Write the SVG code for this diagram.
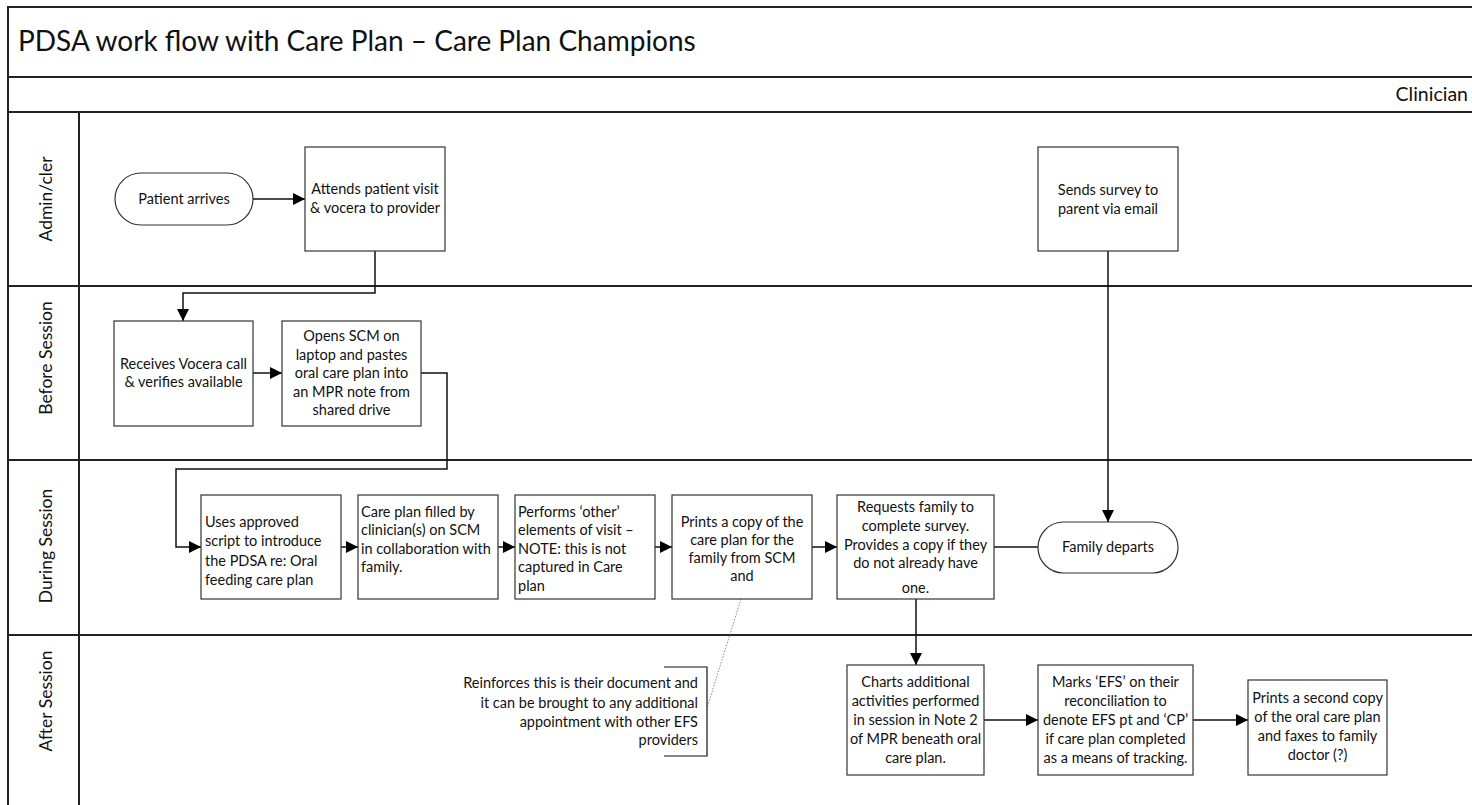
<svg xmlns="http://www.w3.org/2000/svg" width="1472" height="805" viewBox="0 0 1472 805">
<style>
.frame{fill:none;stroke:#222;stroke-width:2}
.box{fill:#fff;stroke:#333;stroke-width:1.2}
.t{font-family:Lato,"Liberation Sans",sans-serif;font-size:14.5px;fill:#111}
.c{text-anchor:middle}
.r{text-anchor:end}
.lane{font-family:Lato,"Liberation Sans",sans-serif;font-size:17.5px;fill:#111;text-anchor:middle}
.conn{fill:none;stroke:#111;stroke-width:1.5}
.dot{fill:none;stroke:#888;stroke-width:1;stroke-dasharray:1.5 1.5}
</style>
<defs>
<marker id="ah" markerUnits="userSpaceOnUse" markerWidth="13" markerHeight="12" refX="12" refY="6" orient="auto">
<path d="M0,0 L12,6 L0,12 Z" fill="#000"/>
</marker>
</defs>
<rect width="1472" height="805" fill="#fff"/>
<g id="pool">
<path class="frame" d="M1473,7 H8 V806"/>
<line class="frame" x1="8" y1="77" x2="1473" y2="77"/>
<line class="frame" x1="8" y1="112" x2="1473" y2="112"/>
<line class="frame" x1="8" y1="286" x2="1473" y2="286"/>
<line class="frame" x1="8" y1="460" x2="1473" y2="460"/>
<line class="frame" x1="8" y1="635" x2="1473" y2="635"/>
<line class="frame" x1="79" y1="112" x2="79" y2="806"/>
<text x="18" y="51" style="font-family:Lato,'Liberation Sans',sans-serif;font-size:28px;fill:#111">PDSA work flow with Care Plan – Care Plan Champions</text>
<text x="1468" y="101" style="font-family:Lato,'Liberation Sans',sans-serif;font-size:19.5px;fill:#111;text-anchor:end">Clinician</text>
<text class="lane" x="52" y="199" transform="rotate(-90 52 199)">Admin/cler</text>
<text class="lane" x="52" y="358" transform="rotate(-90 52 358)">Before Session</text>
<text class="lane" x="52" y="546" transform="rotate(-90 52 546)">During Session</text>
<text class="lane" x="52" y="701" transform="rotate(-90 52 701)">After Session</text>
</g>
<g id="connectors">
<path class="conn" d="M253,199 H305" marker-end="url(#ah)"/>
<path class="conn" d="M375,251 V293 H183 V321" marker-end="url(#ah)"/>
<path class="conn" d="M253,373 H282" marker-end="url(#ah)"/>
<path class="conn" d="M421,373 H447 V469 H176 V547 H201" marker-end="url(#ah)"/>
<path class="conn" d="M341,547 H358" marker-end="url(#ah)"/>
<path class="conn" d="M498,547 H515" marker-end="url(#ah)"/>
<path class="conn" d="M655,547 H672" marker-end="url(#ah)"/>
<path class="conn" d="M812,547 H837" marker-end="url(#ah)"/>
<path class="conn" d="M994,547 H1038"/>
<path class="conn" d="M1108,251 V522" marker-end="url(#ah)"/>
<path class="conn" d="M916,599 V665" marker-end="url(#ah)"/>
<path class="conn" d="M984,720 H1038" marker-end="url(#ah)"/>
<path class="conn" d="M1193,720 H1248" marker-end="url(#ah)"/>
<path class="dot" d="M741,599 L707,708"/>
</g>
<g id="patient-arrives">
<rect class="box" x="115" y="173" width="138" height="52" rx="26"/>
<text class="t c" x="184" y="204">Patient arrives</text>
</g>
<g id="attends">
<rect class="box" x="305" y="147" width="140" height="104"/>
<text class="t c" x="375" y="194">Attends patient visit</text>
<text class="t c" x="375" y="213">&amp; vocera to provider</text>
</g>
<g id="sends-survey">
<rect class="box" x="1038" y="147" width="140" height="104"/>
<text class="t c" x="1108" y="195">Sends survey to</text>
<text class="t c" x="1108" y="214">parent via email</text>
</g>
<g id="receives">
<rect class="box" x="114" y="321" width="139" height="105"/>
<text class="t c" x="183.5" y="369">Receives Vocera call</text>
<text class="t c" x="183.5" y="387">&amp; verifies available</text>
</g>
<g id="opens-scm">
<rect class="box" x="282" y="321" width="139" height="105"/>
<text class="t c" x="351.5" y="341">Opens SCM on</text>
<text class="t c" x="351.5" y="360">laptop and pastes</text>
<text class="t c" x="351.5" y="378">oral care plan into</text>
<text class="t c" x="351.5" y="397">an MPR note from</text>
<text class="t c" x="351.5" y="415">shared drive</text>
</g>
<g id="uses-script">
<rect class="box" x="201" y="495" width="140" height="104"/>
<text class="t" x="205" y="527">Uses approved</text>
<text class="t" x="205" y="546">script to introduce</text>
<text class="t" x="205" y="566">the PDSA re: Oral</text>
<text class="t" x="205" y="585">feeding care plan</text>
</g>
<g id="care-plan-filled">
<rect class="box" x="358" y="495" width="140" height="104"/>
<text class="t" x="361" y="517">Care plan filled by</text>
<text class="t" x="361" y="535">clinician(s) on SCM</text>
<text class="t" x="361" y="554">in collaboration with</text>
<text class="t" x="361" y="572">family.</text>
</g>
<g id="performs-other">
<rect class="box" x="515" y="495" width="140" height="104"/>
<text class="t" x="518" y="517">Performs ‘other’</text>
<text class="t" x="518" y="535">elements of visit –</text>
<text class="t" x="518" y="554">NOTE: this is not</text>
<text class="t" x="518" y="572">captured in Care</text>
<text class="t" x="518" y="591">plan</text>
</g>
<g id="prints-copy">
<rect class="box" x="672" y="495" width="140" height="104"/>
<text class="t c" x="742" y="527">Prints a copy of the</text>
<text class="t c" x="742" y="545">care plan for the</text>
<text class="t c" x="742" y="563">family from SCM</text>
<text class="t c" x="742" y="581">and</text>
</g>
<g id="requests-survey">
<rect class="box" x="837" y="495" width="157" height="104"/>
<text class="t c" x="915.5" y="512">Requests family to</text>
<text class="t c" x="915.5" y="531">complete survey.</text>
<text class="t c" x="915.5" y="550">Provides a copy if they</text>
<text class="t c" x="915.5" y="568">do not already have</text>
<text class="t c" x="915.5" y="593">one.</text>
</g>
<g id="family-departs">
<rect class="box" x="1038" y="522" width="140" height="51" rx="25.5"/>
<text class="t c" x="1108" y="552">Family departs</text>
</g>
<g id="annotation">
<path class="conn" style="stroke-width:1.2" d="M664,667 H707 V756 H664"/>
<text class="t r" x="698" y="688">Reinforces this is their document and</text>
<text class="t r" x="698" y="708">it can be brought to any additional</text>
<text class="t r" x="698" y="727">appointment with other EFS</text>
<text class="t r" x="698" y="745">providers</text>
</g>
<g id="charts-activities">
<rect class="box" x="847" y="665" width="137" height="110"/>
<text class="t c" x="915.5" y="687">Charts additional</text>
<text class="t c" x="915.5" y="706">activities performed</text>
<text class="t c" x="915.5" y="725">in session in Note 2</text>
<text class="t c" x="915.5" y="744">of MPR beneath oral</text>
<text class="t c" x="915.5" y="763">care plan.</text>
</g>
<g id="marks-efs">
<rect class="box" x="1038" y="665" width="155" height="110"/>
<text class="t c" x="1115.5" y="687">Marks ‘EFS’ on their</text>
<text class="t c" x="1115.5" y="706">reconciliation to</text>
<text class="t c" x="1115.5" y="725">denote EFS pt and ‘CP’</text>
<text class="t c" x="1115.5" y="744">if care plan completed</text>
<text class="t c" x="1115.5" y="763">as a means of tracking.</text>
</g>
<g id="prints-second">
<rect class="box" x="1248" y="680" width="139" height="95"/>
<text class="t c" x="1317.5" y="703">Prints a second copy</text>
<text class="t c" x="1317.5" y="722">of the oral care plan</text>
<text class="t c" x="1317.5" y="741">and faxes to family</text>
<text class="t c" x="1317.5" y="760">doctor (?)</text>
</g>
</svg>
